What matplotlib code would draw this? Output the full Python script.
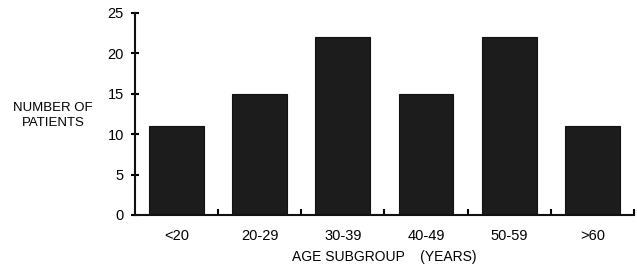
#!/usr/bin/env python3
#
# Number of patients per age subgroup
#
import numpy as np
import matplotlib
matplotlib.use('Agg')
import matplotlib.pyplot as plt

font = {'family': 'Liberation Sans', 'size': 10.5}
matplotlib.rc('font', **font)

# Data
groups = ['<20', '20-29', '30-39', '40-49', '50-59', '>60']
patients = [11, 15, 22, 15, 22, 11]
yticks = [0, 5, 10, 15, 20, 25]

fig = plt.figure(figsize=(6.37, 2.69), dpi=100)
fig.subplots_adjust(0.212, 0.201, 0.995, 0.952)
ax = fig.add_subplot(1, 1, 1)

x = np.arange(len(groups))
ax.bar(x, patients, width=0.66, color='#1c1c1c', edgecolor='#111111', lw=0.8)

ax.set_xlim(-0.5, len(groups) - 0.5)
ax.set_ylim(0, 25)
ax.set_yticks(yticks)
ax.set_xticks(x)
ax.set_xticklabels(groups)
ax.set_xticks(np.arange(len(groups)) + 0.5, minor=True)

for s in ('top', 'right'):
    ax.spines[s].set_visible(False)
for s in ('left', 'bottom'):
    ax.spines[s].set_linewidth(1.5)
    ax.spines[s].set_color('#111111')

ax.tick_params(axis='y', direction='inout', length=6, width=1.5, pad=5)
ax.tick_params(axis='x', which='major', length=0, pad=10)
ax.tick_params(axis='x', which='minor', direction='in', length=4, width=1.5)

ax.set_xlabel('AGE SUBGROUP    (YEARS)', fontsize=10, labelpad=5)
fig.text(0.083, 0.572, 'NUMBER OF\nPATIENTS', ha='center', va='center',
         fontsize=9.5, linespacing=1.35)

fig.savefig('out.png')
